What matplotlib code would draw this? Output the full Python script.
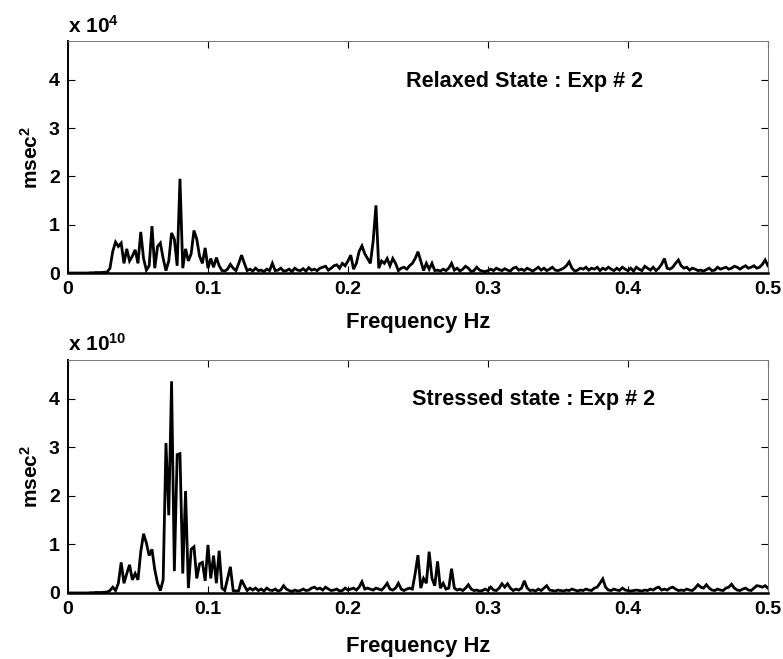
import numpy as np
import matplotlib
matplotlib.use("Agg")
import matplotlib.pyplot as plt

plt.rcParams['font.family'] = ['Liberation Sans', 'DejaVu Sans']
plt.rcParams['font.weight'] = 'bold'
plt.rcParams['mathtext.fontset'] = 'custom'
plt.rcParams['mathtext.rm'] = 'Liberation Sans:bold'
plt.rcParams['mathtext.it'] = 'Liberation Sans:bold'
plt.rcParams['mathtext.bf'] = 'Liberation Sans:bold'

# spectra sampled every 0.002 Hz from 0 to 0.5 Hz
df = 0.002

# relaxed state, units of 1e4 msec^2
relaxed = [
    0, 0, 0, 0, 0, 0, 0, 0, 0.005, 0.005, 0.01, 0.01, 0.01, 0.015, 0.02,
    0.1, 0.45, 0.64, 0.55, 0.62, 0.2, 0.5, 0.25, 0.35, 0.48,
    0.2, 0.85, 0.3, 0.06, 0.15, 0.97, 0.1, 0.55, 0.62, 0.3,
    0.05, 0.25, 0.83, 0.7, 0.15, 1.95, 0.1, 0.5, 0.25, 0.4,
    0.88, 0.7, 0.35, 0.2, 0.52, 0.1, 0.3, 0.12, 0.32, 0.15,
    0.05, 0.04, 0.08, 0.18, 0.1, 0.05, 0.2, 0.37, 0.2, 0.05,
    0.08, 0.04, 0.1, 0.05, 0.06, 0.03, 0.08, 0.05, 0.2, 0.05,
    0.06, 0.1, 0.04, 0.05, 0.08, 0.03, 0.1, 0.06, 0.05, 0.09,
    0.04, 0.11, 0.06, 0.08, 0.05, 0.1, 0.12, 0.14, 0.06, 0.1,
    0.15, 0.17, 0.1, 0.2, 0.15, 0.25, 0.37, 0.08, 0.2, 0.45,
    0.56, 0.4, 0.3, 0.2, 0.66, 1.40, 0.1, 0.25, 0.2, 0.3,
    0.15, 0.3, 0.2, 0.05, 0.1, 0.12, 0.08, 0.15, 0.2, 0.3,
    0.44, 0.25, 0.05, 0.2, 0.08, 0.2, 0.05, 0.06, 0.04, 0.08,
    0.05, 0.1, 0.2, 0.06, 0.1, 0.04, 0.08, 0.14, 0.1, 0.03,
    0.05, 0.12, 0.06, 0.04, 0.03, 0.05, 0.08, 0.05, 0.1, 0.07,
    0.05, 0.09, 0.06, 0.04, 0.1, 0.12, 0.06, 0.08, 0.05, 0.1,
    0.07, 0.04, 0.08, 0.12, 0.06, 0.1, 0.05, 0.08, 0.12, 0.06,
    0.05, 0.07, 0.1, 0.15, 0.23, 0.1, 0.04, 0.06, 0.1, 0.08,
    0.12, 0.06, 0.1, 0.08, 0.12, 0.05, 0.1, 0.07, 0.12, 0.08,
    0.05, 0.1, 0.06, 0.12, 0.08, 0.05, 0.1, 0.04, 0.12, 0.08,
    0.05, 0.14, 0.1, 0.06, 0.12, 0.05, 0.1, 0.18, 0.3, 0.1,
    0.08, 0.12, 0.2, 0.27, 0.15, 0.1, 0.12, 0.06, 0.1, 0.08,
    0.05, 0.06, 0.04, 0.07, 0.1, 0.05, 0.06, 0.12, 0.08, 0.1,
    0.12, 0.08, 0.1, 0.14, 0.12, 0.08, 0.12, 0.15, 0.1, 0.12,
    0.15, 0.1, 0.12, 0.18, 0.27, 0.15,
]

# stressed state, units of 1e10 msec^2
stressed = [
    0, 0, 0, 0, 0, 0, 0, 0, 0.005, 0.005, 0.01, 0.01, 0.01, 0.015, 0.02,
    0.05, 0.12, 0.05, 0.2, 0.63, 0.2, 0.4, 0.58, 0.27, 0.4,
    0.27, 0.85, 1.22, 1.03, 0.77, 0.9, 0.48, 0.2, 0.05, 0.27,
    3.09, 1.6, 4.36, 0.45, 2.85, 2.87, 0.4, 2.1, 0.1, 0.9,
    0.95, 0.3, 0.6, 0.63, 0.25, 0.99, 0.3, 0.77, 0.2, 0.87,
    0.1, 0.05, 0.3, 0.54, 0.05, 0.04, 0.05, 0.27, 0.15, 0.05,
    0.1, 0.06, 0.1, 0.05, 0.08, 0.04, 0.1, 0.06, 0.05, 0.08,
    0.04, 0.06, 0.15, 0.08, 0.05, 0.03, 0.06, 0.04, 0.05, 0.08,
    0.05, 0.06, 0.1, 0.12, 0.08, 0.1, 0.06, 0.12, 0.08, 0.05,
    0.06, 0.08, 0.04, 0.05, 0.1, 0.06, 0.08, 0.1, 0.06, 0.12,
    0.23, 0.08, 0.1, 0.08, 0.06, 0.1, 0.08, 0.06, 0.12, 0.2,
    0.08, 0.06, 0.1, 0.2, 0.08, 0.05, 0.08, 0.1, 0.08, 0.4,
    0.78, 0.1, 0.3, 0.2, 0.85, 0.3, 0.15, 0.65, 0.1, 0.2,
    0.08, 0.1, 0.5, 0.1, 0.06, 0.08, 0.05, 0.1, 0.17, 0.08,
    0.05, 0.06, 0.04, 0.05, 0.08, 0.05, 0.12, 0.06, 0.05, 0.1,
    0.19, 0.12, 0.19, 0.1, 0.05, 0.08, 0.06, 0.1, 0.25, 0.1,
    0.05, 0.06, 0.04, 0.08, 0.05, 0.1, 0.15, 0.06, 0.05, 0.04,
    0.06, 0.05, 0.04, 0.06, 0.05, 0.08, 0.06, 0.04, 0.06, 0.05,
    0.08, 0.06, 0.05, 0.1, 0.12, 0.2, 0.29, 0.12, 0.06, 0.05,
    0.08, 0.06, 0.05, 0.1, 0.06, 0.05, 0.04, 0.05, 0.06, 0.05,
    0.04, 0.06, 0.05, 0.08, 0.06, 0.1, 0.12, 0.06, 0.08, 0.06,
    0.1, 0.12, 0.08, 0.05, 0.06, 0.05, 0.08, 0.06, 0.05, 0.1,
    0.17, 0.12, 0.1, 0.17, 0.1, 0.06, 0.05, 0.08, 0.06, 0.05,
    0.1, 0.12, 0.18, 0.1, 0.06, 0.05, 0.08, 0.1, 0.06, 0.05,
    0.1, 0.15, 0.14, 0.12, 0.15, 0.1,
]

xticks = [0, 0.1, 0.2, 0.3, 0.4, 0.5]
xticklabels = ['0', '0.1', '0.2', '0.3', '0.4', '0.5']
yticks = [0, 1, 2, 3, 4]

panels = [
    (relaxed, '4', 'Relaxed State : Exp # 2', 0.2414, 3.85, 9.5),
    (stressed, '10', 'Stressed state : Exp # 2', 0.2455, 3.88, 13),
]

fig = plt.figure(figsize=(7.83, 6.59), dpi=100)
axes = [fig.add_axes([0.0868, 0.5857, 0.894, 0.352]),
        fig.add_axes([0.0868, 0.1002, 0.894, 0.3536])]

for ax, (vals, expo, label, tx, ty, xpad) in zip(axes, panels):
    vals = np.array(vals)
    freq = np.arange(len(vals)) * df
    ax.plot(freq, vals, color='black', lw=2.0, solid_joinstyle='miter')
    ax.set_xlim(0, 0.5)
    ax.set_ylim(0, 4.8)
    ax.set_xticks(xticks)
    ax.set_xticklabels(xticklabels)
    ax.set_yticks(yticks)
    ax.tick_params(direction='in', length=5, width=0.8, top=True, right=True,
                   labelsize=14, pad=6)
    for t in ax.get_xticklabels() + ax.get_yticklabels():
        t.set_fontweight('bold')
    for side in ['top', 'right']:
        ax.spines[side].set_color('#777777')
        ax.spines[side].set_linewidth(0.7)
    ax.spines['left'].set_linewidth(1.4)
    ax.spines['bottom'].set_linewidth(1.8)
    ax.set_xlabel('Frequency Hz', fontsize=15.8, fontweight='bold',
                  labelpad=xpad)
    ax.set_ylabel('msec$^{2}$', fontsize=15, fontweight='bold', labelpad=5)
    ax.text(0.0, 1.02, 'x 10$^{' + expo + '}$', transform=ax.transAxes,
            fontsize=15, fontweight='bold', ha='left', va='bottom')
    ax.text(tx, ty, label, fontsize=15.6, fontweight='bold', ha='left',
            va='baseline')

fig.savefig('out.png', dpi=100)
